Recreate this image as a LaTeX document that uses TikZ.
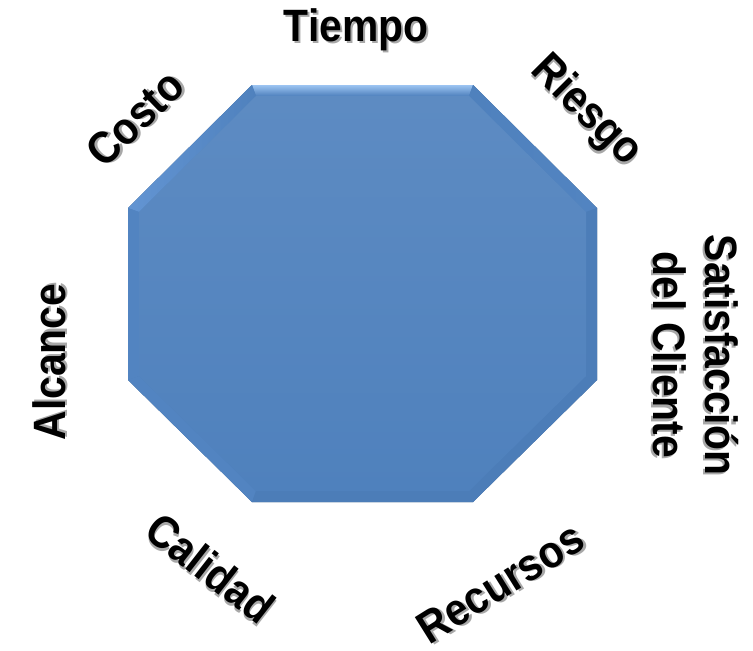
\documentclass[tikz,border=0pt]{standalone}
\usepackage{fontspec}
\setmainfont{Liberation Sans}
\newfontfamily\lblfont[FakeStretch=0.9]{Liberation Sans}

\definecolor{octblue}{HTML}{4F81BD}
\definecolor{bevtop}{HTML}{9CC4F2}
\definecolor{bevlight}{HTML}{6395D3}
\definecolor{bevmid}{HTML}{5284C1}
\definecolor{bevdark}{HTML}{4C7DB8}
\definecolor{txtshadow}{HTML}{A8A8A8}

% text with a small grey drop shadow
\newcommand\shtxt[1]{\leavevmode\rlap{\kern1.6pt\raisebox{-1.6pt}{\color{txtshadow}#1}}#1}

\begin{document}
\begin{tikzpicture}[x=0.75pt,y=-0.75pt,
  lbl/.style={font=\lblfont\bfseries\fontsize{34}{39}\selectfont, inner sep=0pt, align=center},
  octshadow/.style={fill=black, opacity=0.25}]
\useasboundingbox (0,0) rectangle (753,650);

% outer corners
\coordinate (a) at (252,85);
\coordinate (b) at (473,85);
\coordinate (c) at (597,208);
\coordinate (d) at (597,380);
\coordinate (e) at (473,502);
\coordinate (f) at (252,502);
\coordinate (g) at (128,380);
\coordinate (h) at (128,208);
% inner corners of the bevel
\coordinate (ai) at (256,96);
\coordinate (bi) at (469,96);
\coordinate (ci) at (586,212);
\coordinate (di) at (586,376);
\coordinate (ei) at (469,491);
\coordinate (fi) at (256,491);
\coordinate (gi) at (139,376);
\coordinate (hi) at (139,212);

% soft shadow on the upper left
\begin{scope}[shift={(-5,-1.5)}]
\fill[octshadow] (a) -- (b) -- (c) -- (d) -- (e) -- (f) -- (g) -- (h) -- cycle;
\end{scope}
\begin{scope}[shift={(-2.5,-1)}]
\fill[octshadow] (a) -- (b) -- (c) -- (d) -- (e) -- (f) -- (g) -- (h) -- cycle;
\end{scope}

% octagon
\fill[octblue] (a) -- (b) -- (c) -- (d) -- (e) -- (f) -- (g) -- (h) -- cycle;

% bevel faces
\shade[top color=bevtop, bottom color=octblue] (a) -- (b) -- (bi) -- (ai) -- cycle;
\shade[left color=bevlight, right color=octblue] (h) -- (a) -- (ai) -- (hi) -- cycle;
\shade[left color=octblue, right color=bevmid] (b) -- (c) -- (ci) -- (bi) -- cycle;
\fill[bevmid] (h) -- (hi) -- (gi) -- (g) -- cycle;
\fill[bevdark] (c) -- (d) -- (di) -- (ci) -- cycle;
\fill[bevmid] (g) -- (gi) -- (fi) -- (f) -- cycle;
\fill[bevdark] (f) -- (fi) -- (ei) -- (e) -- cycle;
\fill[bevdark] (e) -- (ei) -- (di) -- (d) -- cycle;
\shade[top color=octblue!92!white, bottom color=octblue] (ai) -- (bi) -- (ci) -- (di) -- (ei) -- (fi) -- (gi) -- (hi) -- cycle;

% labels
\node[lbl] (tiempo) at (356,31) {\shtxt{Tiempo}};
\node[lbl, rotate=-45] (riesgo) at (585,112) {\shtxt{Riesgo}};
\node[lbl, rotate=44] (costo) at (136,119) {\shtxt{Costo}};
\node[lbl, rotate=-90] (satisf) at (695,355) {\shtxt{Satisfacción}\\\shtxt{del Cliente}};
\node[lbl, rotate=90] (alcance) at (50,362) {\shtxt{Alcance}};
\node[lbl, rotate=-38] (calidad) at (210,569) {\shtxt{Calidad}};
\node[lbl, rotate=32] (recursos) at (501,584) {\shtxt{Recursos}};
\end{tikzpicture}
\end{document}
